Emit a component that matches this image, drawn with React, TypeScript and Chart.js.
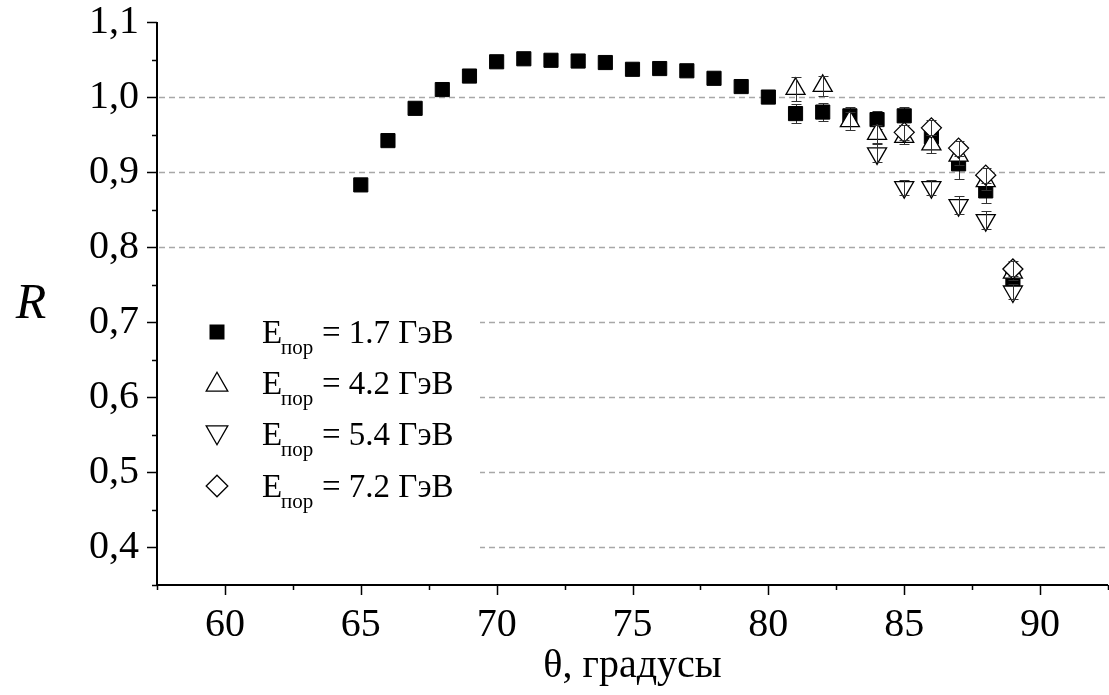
import React, { useEffect, useRef } from "react";
import { Chart, registerables } from "chart.js";

Chart.register(...registerables);

// ---- data ----
const X_17 = [65, 66, 67, 68, 69, 70, 71, 72, 73, 74, 75, 76, 77, 78, 79, 80, 81, 82, 83, 84, 85, 86, 87, 88, 89];
const R_17 = [0.883, 0.942, 0.985, 1.010, 1.028, 1.047, 1.051, 1.049, 1.048, 1.046, 1.037, 1.038, 1.035, 1.025, 1.014, 1.000, 0.978, 0.980, 0.975, 0.970, 0.975, 0.947, 0.911, 0.875, 0.758];
const E_17 = [0.006, 0.006, 0.005, 0.005, 0.005, 0.005, 0.005, 0.005, 0.005, 0.005, 0.005, 0.005, 0.005, 0.005, 0.006, 0.006, 0.013, 0.012, 0.012, 0.012, 0.012, 0.014, 0.02, 0.016, 0.01];

const X_42 = [81, 82, 83, 84, 85, 86, 87, 88, 89];
const R_42 = [1.011, 1.015, 0.968, 0.951, 0.947, 0.937, 0.922, 0.888, 0.766];
const E_42 = [0.016, 0.013, 0.012, 0.012, 0.01, 0.012, 0.012, 0.012, 0.01];

const X_54 = [84, 85, 86, 87, 88, 89];
const R_54 = [0.925, 0.880, 0.880, 0.856, 0.836, 0.741];
const E_54 = [0.012, 0.01, 0.01, 0.012, 0.012, 0.01];

const X_72 = [85, 86, 87, 88, 89];
const R_72 = [0.953, 0.959, 0.932, 0.896, 0.771];
const E_72 = [0.01, 0.01, 0.01, 0.01, 0.01];

const LEGEND_LABELS = ["= 1.7 ГэВ", "= 4.2 ГэВ", "= 5.4 ГэВ", "= 7.2 ГэВ"];
const X_TICKS = [60, 65, 70, 75, 80, 85, 90];
const X_MINOR = [57.5, 62.5, 67.5, 72.5, 77.5, 82.5, 87.5, 92.5];
const Y_TICKS = [0.4, 0.5, 0.6, 0.7, 0.8, 0.9, 1.0, 1.1];
const Y_MINOR = [0.35, 0.45, 0.55, 0.65, 0.75, 0.85, 0.95, 1.05];
const Y_GRID = [0.4, 0.5, 0.6, 0.7, 0.8, 0.9, 1.0];
const X_TITLE = "θ, градусы";
const Y_TITLE = "R";

const SERIES_X = [X_17, X_42, X_54, X_72];
const SERIES_R = [R_17, R_42, R_54, R_72];
const SERIES_E = [E_17, E_42, E_54, E_72];

const FONT = "'Liberation Serif', 'Times New Roman', serif";

function drawMarker(ctx: CanvasRenderingContext2D, kind: number, x: number, y: number, s: number) {
  ctx.save();
  ctx.beginPath();
  if (kind === 0) {
    ctx.rect(x - s / 2, y - s / 2, s, s);
    ctx.fillStyle = "#000";
    ctx.fill();
  } else {
    if (kind === 1) {
      ctx.moveTo(x, y - s * 0.6);
      ctx.lineTo(x + s * 0.6, y + s * 0.45);
      ctx.lineTo(x - s * 0.6, y + s * 0.45);
    } else if (kind === 2) {
      ctx.moveTo(x, y + s * 0.6);
      ctx.lineTo(x + s * 0.6, y - s * 0.45);
      ctx.lineTo(x - s * 0.6, y - s * 0.45);
    } else {
      ctx.moveTo(x, y - s * 0.6);
      ctx.lineTo(x + s * 0.6, y);
      ctx.lineTo(x, y + s * 0.6);
      ctx.lineTo(x - s * 0.6, y);
    }
    ctx.closePath();
    ctx.fillStyle = "#fff";
    ctx.fill();
    ctx.strokeStyle = "#000";
    ctx.lineWidth = 1.3;
    ctx.stroke();
  }
  ctx.restore();
}

function drawErrors(chart: any, si: number) {
  const { ctx, scales } = chart;
  ctx.save();
  ctx.strokeStyle = "#333";
  ctx.lineWidth = 1;
  SERIES_X[si].forEach((xv, i) => {
    const px = Math.round(scales.x.getPixelForValue(xv)) + 0.5;
    const yt = Math.round(scales.y.getPixelForValue(SERIES_R[si][i] + SERIES_E[si][i])) + 0.5;
    const yb = Math.round(scales.y.getPixelForValue(SERIES_R[si][i] - SERIES_E[si][i])) + 0.5;
    ctx.beginPath();
    ctx.moveTo(px, yt);
    ctx.lineTo(px, yb);
    ctx.moveTo(px - 5, yt);
    ctx.lineTo(px + 5, yt);
    ctx.moveTo(px - 5, yb);
    ctx.lineTo(px + 5, yb);
    ctx.stroke();
  });
  ctx.restore();
}

const decorPlugin = {
  id: "decor",
  beforeDatasetsDraw(chart: any) {
    const { ctx, chartArea, scales } = chart;
    ctx.save();
    ctx.strokeStyle = "#a8a8a8";
    ctx.lineWidth = 1.5;
    ctx.setLineDash([6, 4]);
    for (const v of Y_GRID) {
      const y = Math.round(scales.y.getPixelForValue(v)) + 0.5;
      ctx.beginPath();
      ctx.moveTo(chartArea.left + 2, y);
      ctx.lineTo(chartArea.right, y);
      ctx.stroke();
    }
    ctx.restore();
  },
  beforeDatasetDraw(chart: any, args: any) {
    if (args.index === 0) drawErrors(chart, 0);
  },
  afterDatasetDraw(chart: any, args: any) {
    if (args.index > 0) drawErrors(chart, args.index);
  },
  afterDatasetsDraw(chart: any) {
    const { ctx, chartArea } = chart;
    ctx.save();
    ctx.fillStyle = "#fff";
    ctx.fillRect(chartArea.left + 2, 300, 480 - chartArea.left - 2, 255);
    const rows = [332, 383, 434, 486];
    const sizes = [15, 18, 18, 18];
    rows.forEach((cy, i) => {
      drawMarker(ctx, i, 217, cy, sizes[i]);
      ctx.fillStyle = "#000";
      ctx.textAlign = "left";
      ctx.textBaseline = "alphabetic";
      ctx.font = `33px ${FONT}`;
      ctx.fillText("E", 262, cy + 11);
      ctx.font = `21px ${FONT}`;
      ctx.fillText("пор", 281, cy + 22);
      ctx.font = `33px ${FONT}`;
      ctx.fillText(LEGEND_LABELS[i], 322, cy + 11);
    });
    ctx.restore();
  },
  afterDraw(chart: any) {
    const { ctx, chartArea, scales } = chart;
    ctx.save();
    ctx.strokeStyle = "#000";
    ctx.lineWidth = 2;
    ctx.beginPath();
    ctx.moveTo(chartArea.left, chartArea.top);
    ctx.lineTo(chartArea.left, chartArea.bottom);
    ctx.lineTo(chartArea.right, chartArea.bottom);
    ctx.stroke();
    ctx.lineWidth = 1.5;
    ctx.beginPath();
    for (const v of Y_TICKS) {
      const y = Math.round(scales.y.getPixelForValue(v)) + 0.5;
      ctx.moveTo(chartArea.left - 10, y);
      ctx.lineTo(chartArea.left, y);
    }
    for (const v of Y_MINOR) {
      const y = Math.round(scales.y.getPixelForValue(v)) + 0.5;
      ctx.moveTo(chartArea.left - 5, y);
      ctx.lineTo(chartArea.left, y);
    }
    for (const v of X_TICKS) {
      const x = Math.round(scales.x.getPixelForValue(v)) + 0.5;
      ctx.moveTo(x, chartArea.bottom);
      ctx.lineTo(x, chartArea.bottom + 10);
    }
    for (const v of X_MINOR) {
      const x = Math.round(scales.x.getPixelForValue(v)) + 0.5;
      ctx.moveTo(x, chartArea.bottom);
      ctx.lineTo(x, chartArea.bottom + 5);
    }
    ctx.stroke();

    ctx.fillStyle = "#000";
    ctx.textAlign = "center";
    ctx.textBaseline = "alphabetic";
    ctx.font = `40px ${FONT}`;
    ctx.fillText(X_TITLE, (chartArea.left + chartArea.right) / 2, 677);
    ctx.font = `italic 50px ${FONT}`;
    ctx.fillText(Y_TITLE, 31, 318);
    ctx.restore();
  },
};

export default function App() {
  const ref = useRef<HTMLCanvasElement | null>(null);
  useEffect(() => {
    if (!ref.current) return;
    const mk = (xs: number[], rs: number[]) => xs.map((x, i) => ({ x, y: rs[i] }));
    const chart = new Chart(ref.current, {
      type: "scatter",
      data: {
        datasets: [
          {
            label: "1.7",
            data: mk(X_17, R_17),
            pointStyle: "rect",
            pointRadius: 10,
            backgroundColor: "#000",
            borderColor: "#000",
            borderWidth: 1,
            order: 4,
          },
          {
            label: "4.2",
            data: mk(X_42, R_42),
            pointStyle: "triangle",
            pointRadius: 11,
            backgroundColor: "#fff",
            borderColor: "#000",
            borderWidth: 1.3,
            order: 3,
          },
          {
            label: "5.4",
            data: mk(X_54, R_54),
            pointStyle: "triangle",
            rotation: 180,
            pointRadius: 11,
            backgroundColor: "#fff",
            borderColor: "#000",
            borderWidth: 1.3,
            order: 2,
          },
          {
            label: "7.2",
            data: mk(X_72, R_72),
            pointStyle: "rectRot",
            pointRadius: 10,
            backgroundColor: "#fff",
            borderColor: "#000",
            borderWidth: 1.3,
            order: 1,
          },
        ] as any,
      },
      options: {
        animation: false,
        responsive: false,
        layout: { autoPadding: false, padding: { top: 22, right: 1, left: 0, bottom: 0 } },
        plugins: { legend: { display: false }, tooltip: { enabled: false } },
        scales: {
          x: {
            type: "linear",
            min: 57.5,
            max: 92.5,
            grid: { display: false },
            border: { display: false },
            afterBuildTicks: (s: any) => {
              s.ticks = X_TICKS.map((v) => ({ value: v }));
            },
            afterFit: (s: any) => {
              s.height = 110;
              s.paddingLeft = 0;
              s.paddingRight = 0;
              s.paddingTop = 0;
              s.paddingBottom = 0;
            },
            ticks: {
              autoSkip: false,
              maxRotation: 0,
              padding: 12,
              color: "#000",
              font: { family: FONT, size: 40, lineHeight: 1 },
              callback: (v: any) => String(v),
            },
          },
          y: {
            type: "linear",
            min: 0.35,
            max: 1.1,
            grid: { display: false },
            border: { display: false },
            afterBuildTicks: (s: any) => {
              s.ticks = Y_TICKS.map((v) => ({ value: v }));
            },
            afterFit: (s: any) => {
              s.width = 157;
              s.paddingLeft = 0;
              s.paddingRight = 0;
              s.paddingTop = 0;
              s.paddingBottom = 0;
            },
            ticks: {
              autoSkip: false,
              padding: 10,
              color: "#000",
              font: { family: FONT, size: 40, lineHeight: 1 },
              callback: (v: any) => Number(v).toFixed(1).replace(".", ","),
            },
          },
        },
      } as any,
      plugins: [decorPlugin],
    });
    return () => chart.destroy();
  }, []);
  return (
    <div style={{ position: "absolute", left: 0, top: 0, width: 1109, height: 695, background: "#fff" }}>
      <canvas ref={ref} width={1109} height={695} />
    </div>
  );
}
